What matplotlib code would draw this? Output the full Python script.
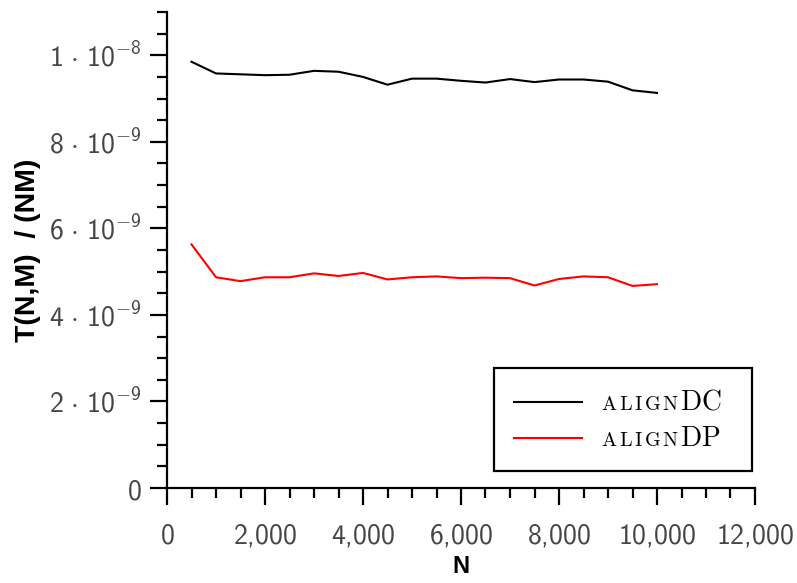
import os
import matplotlib
matplotlib.use("Agg")
import matplotlib.pyplot as plt
from matplotlib import font_manager
from matplotlib.ticker import FixedLocator, MultipleLocator
from matplotlib.offsetbox import AnchoredOffsetbox, HPacker, VPacker, TextArea, DrawingArea
from matplotlib.lines import Line2D

cmss = os.path.join(matplotlib.get_data_path(), "fonts", "ttf", "cmss10.ttf")
font_manager.fontManager.addfont(cmss)
plt.rcParams['mathtext.fontset'] = 'custom'
plt.rcParams['mathtext.rm'] = 'cmss10'
plt.rcParams['mathtext.sf'] = 'cmss10'
plt.rcParams['mathtext.it'] = 'cmss10'
plt.rcParams['mathtext.fallback'] = 'cm'

N = [500, 1000, 1500, 2000, 2500, 3000, 3500, 4000, 4500, 5000,
     5500, 6000, 6500, 7000, 7500, 8000, 8500, 9000, 9500, 10000]
align_dc = [9.85, 9.58, 9.56, 9.54, 9.55, 9.64, 9.62, 9.50, 9.32, 9.46,
            9.46, 9.41, 9.37, 9.45, 9.38, 9.44, 9.44, 9.39, 9.19, 9.13]
align_dp = [5.63, 4.87, 4.78, 4.87, 4.87, 4.96, 4.90, 4.97, 4.82, 4.87,
            4.89, 4.85, 4.86, 4.85, 4.68, 4.83, 4.89, 4.87, 4.67, 4.71]
align_dc = [v * 1e-9 for v in align_dc]
align_dp = [v * 1e-9 for v in align_dp]

xticks = [0, 2000, 4000, 6000, 8000, 10000, 12000]
xticklabels = ["0", "2{,}000", "4{,}000", "6{,}000", "8{,}000", "10{,}000", "12{,}000"]
yticks = [0, 2e-9, 4e-9, 6e-9, 8e-9, 1e-8]
yticklabels = ["0", r"2\,\cdot\,10^{-9}", r"4\,\cdot\,10^{-9}", r"6\,\cdot\,10^{-9}",
               r"8\,\cdot\,10^{-9}", r"1\,\cdot\,10^{-8}"]
legend_labels = [("ALIGN", "DC"), ("ALIGN", "DP")]

fig = plt.figure(figsize=(7.97, 5.83), dpi=100)
ax = fig.add_axes([167/797, 1-488/583, (755-167)/797, (488-12)/583])

l1, = ax.plot(N, align_dc, color='black', lw=1.5)
l2, = ax.plot(N, align_dp, color='#ff0000', lw=1.5)

ax.set_xlim(0, 12000)
ax.set_ylim(0, 1.1e-8)
ax.spines['top'].set_visible(False)
ax.spines['right'].set_visible(False)
for s in ('left', 'bottom'):
    ax.spines[s].set_linewidth(1.6)
    ax.spines[s].set_color('black')

ax.xaxis.set_major_locator(FixedLocator(xticks))
ax.set_xticklabels([r"$%s$" % t for t in xticklabels])
ax.xaxis.set_minor_locator(MultipleLocator(500))
ax.yaxis.set_major_locator(FixedLocator(yticks))
ax.set_yticklabels([r"$%s$" % t for t in yticklabels])
ax.yaxis.set_minor_locator(MultipleLocator(0.5e-9))
ax.tick_params(which='major', length=12, width=1.6, direction='out', labelsize=20,
               labelcolor='#454545')
ax.tick_params(axis='x', which='major', pad=12)
ax.tick_params(axis='y', which='major', pad=6)
ax.tick_params(which='minor', length=7, width=1.6, direction='out')

ax.set_xlabel("N", fontsize=17, fontweight='bold', family='Liberation Sans', labelpad=4)
ax.set_ylabel("T(N,M)  / (NM)", fontsize=20.5, fontweight='bold', family='Liberation Sans', labelpad=6)

rows = []
for line, (small, big) in zip((l1, l2), legend_labels):
    da = DrawingArea(49, 14, 0, 0)
    da.add_artist(Line2D([0, 49], [7, 7], color=line.get_color(), lw=line.get_linewidth()))
    letters = [TextArea(r"$\mathrm{%s}$" % ch,
                        textprops=dict(fontsize=14.5, math_fontfamily='cm'))
               for ch in small]
    sc = HPacker(children=letters, align='baseline', pad=0, sep=0.9)
    t2 = TextArea(r"$\mathrm{%s}$" % big, textprops=dict(fontsize=20, math_fontfamily='cm'))
    txt = HPacker(children=[sc, t2], align='baseline', pad=0, sep=1)
    rows.append(HPacker(children=[da, txt], align='center', pad=0, sep=14))
box = VPacker(children=rows, align='left', pad=0, sep=6)
outer = HPacker(children=[box, DrawingArea(8, 1, 0, 0)], pad=0, sep=0)
anch = AnchoredOffsetbox(loc='lower right', child=outer, pad=1.4, borderpad=0,
                         frameon=True, bbox_to_anchor=(0.995, 0.035),
                         bbox_transform=ax.transAxes, prop=dict(size=10))
anch.patch.set_boxstyle("square", pad=0)
anch.patch.set_linewidth(1.6)
anch.patch.set_edgecolor('black')
ax.add_artist(anch)

fig.savefig("out.png", dpi=100)
